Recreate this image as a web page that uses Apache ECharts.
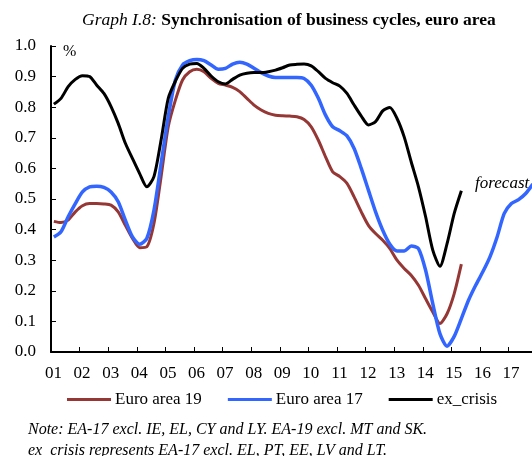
<!DOCTYPE html>
<html>
<head>
<meta charset="utf-8">
<script src="https://cdn.jsdelivr.net/npm/echarts@6/dist/echarts.min.js"></script>
<style>
  html, body { margin: 0; padding: 0; background: #fff; }
  #chart { width: 532px; height: 456px; }
</style>
</head>
<body>
<div id="chart"></div>
<script>
// quarterly observations, first quarter plotted at 2001.1 (axis value 1 = year 01)
var startT = 1.1;
var quarterStep = 0.25;
var forecastT = 15.35;

// Euro area 19
var ea19 = [0.427, 0.423, 0.431, 0.458, 0.478, 0.485, 0.485, 0.484, 0.480, 0.458,
    0.414, 0.371, 0.341, 0.344, 0.420, 0.573, 0.736, 0.823, 0.889, 0.916,
    0.924, 0.916, 0.894, 0.878, 0.872, 0.865, 0.851, 0.829, 0.807, 0.791,
    0.780, 0.774, 0.772, 0.771, 0.769, 0.760, 0.736, 0.692, 0.638, 0.589,
    0.573, 0.551, 0.507, 0.458, 0.414, 0.387, 0.365, 0.338, 0.300, 0.273,
    0.250, 0.218, 0.174, 0.131, 0.093, 0.125, 0.191, 0.287];

// Euro area 17 (runs on into the forecast)
var ea17 = [0.376, 0.393, 0.442, 0.485, 0.523, 0.540, 0.542, 0.538, 0.523, 0.491,
    0.431, 0.376, 0.352, 0.371, 0.463, 0.616, 0.769, 0.889, 0.938, 0.952,
    0.956, 0.952, 0.938, 0.924, 0.927, 0.941, 0.947, 0.941, 0.927, 0.913,
    0.902, 0.897, 0.897, 0.897, 0.897, 0.894, 0.872, 0.829, 0.774, 0.736,
    0.723, 0.706, 0.665, 0.600, 0.529, 0.458, 0.398, 0.352, 0.330, 0.330,
    0.346, 0.338, 0.267, 0.158, 0.060, 0.019, 0.051, 0.109, 0.169, 0.218,
    0.262, 0.311, 0.376, 0.453, 0.485, 0.498, 0.518, 0.549];

// ex_crisis
var exCrisis = [0.810, 0.829, 0.867, 0.891, 0.903, 0.900, 0.872, 0.845, 0.802, 0.747,
    0.682, 0.632, 0.583, 0.540, 0.573, 0.693, 0.829, 0.885, 0.927, 0.941,
    0.943, 0.927, 0.902, 0.883, 0.876, 0.891, 0.905, 0.911, 0.913, 0.913,
    0.916, 0.921, 0.929, 0.938, 0.940, 0.941, 0.935, 0.916, 0.894, 0.880,
    0.869, 0.845, 0.807, 0.771, 0.742, 0.753, 0.788, 0.799, 0.763, 0.703,
    0.620, 0.540, 0.442, 0.333, 0.280, 0.354, 0.453, 0.527];

var seriesNames = ['Euro area 19', 'Euro area 17', 'ex_crisis'];
var seriesColors = ['#953735', '#3366ff', '#000000'];

var font = 'Liberation Serif';

function toPoints(values) {
    return values.map(function (v, i) {
        return [startT + i * quarterStep, v];
    });
}

var chart = echarts.init(document.getElementById('chart'));

var option = {
    animation: false,
    backgroundColor: '#fff',
    textStyle: { fontFamily: font, color: '#000' },
    title: [{
        left: 77,
        top: 6,
        text: '{a|Graph I.8:} {b|Synchronisation of business cycles, euro area}',
        textStyle: {
            rich: {
                a: { fontFamily: font, fontSize: 17.5, fontStyle: 'italic', fontWeight: 'normal', color: '#000' },
                b: { fontFamily: font, fontSize: 17.5, fontWeight: 'bold', color: '#000' }
            }
        }
    }, {
        left: 23,
        top: 414,
        text: 'Note: EA-17 excl. IE, EL, CY and LY. EA-19 excl. MT and SK.\nex_crisis represents EA-17 excl. EL, PT, EE, LV and LT.',
        textStyle: {
            fontFamily: font, fontSize: 16, fontStyle: 'italic',
            fontWeight: 'normal', color: '#000', lineHeight: 21
        }
    }],
    legend: {
        top: 391,
        left: 67,
        padding: 0,
        icon: 'rect',
        itemWidth: 44,
        itemHeight: 3,
        itemGap: 26,
        data: seriesNames,
        textStyle: { fontFamily: font, fontSize: 17, color: '#000', padding: [0, 0, 0, -1] }
    },
    grid: { left: 51, right: 0, top: 46, bottom: 104 },
    xAxis: {
        type: 'value',
        min: 1,
        max: 17.82,
        interval: 1,
        axisLine: { lineStyle: { color: '#000', width: 2 } },
        axisTick: { inside: true, length: 5, lineStyle: { color: '#000', width: 1 } },
        axisLabel: {
            margin: 13,
            fontFamily: font,
            fontSize: 17,
            color: '#000',
            showMaxLabel: false,
            padding: [0, 0, 0, 5],
            formatter: function (v) {
                if (Math.abs(v - Math.round(v)) > 1e-6) return '';
                var n = Math.round(v);
                return (n < 10 ? '0' : '') + n;
            }
        },
        splitLine: { show: false }
    },
    yAxis: {
        type: 'value',
        min: 0,
        max: 1,
        interval: 0.1,
        axisLine: { show: true, lineStyle: { color: '#000', width: 2 } },
        axisTick: { show: true, inside: true, length: 5, lineStyle: { color: '#000', width: 1 } },
        axisLabel: {
            margin: 15,
            fontFamily: font,
            fontSize: 17,
            color: '#000',
            formatter: function (v) { return v.toFixed(1); }
        },
        splitLine: { show: false }
    },
    series: [{
        name: seriesNames[0],
        type: 'line',
        data: toPoints(ea19),
        symbol: 'none',
        smooth: 0.25,
        lineStyle: { color: seriesColors[0], width: 3 },
        itemStyle: { color: seriesColors[0] }
    }, {
        name: seriesNames[1],
        type: 'line',
        data: toPoints(ea17),
        symbol: 'none',
        smooth: 0.25,
        lineStyle: { color: seriesColors[1], width: 3.5 },
        itemStyle: { color: seriesColors[1] }
    }, {
        name: seriesNames[2],
        type: 'line',
        data: toPoints(exCrisis),
        symbol: 'none',
        smooth: 0.25,
        lineStyle: { color: seriesColors[2], width: 3 },
        itemStyle: { color: seriesColors[2] }
    }]
};

chart.setOption(option);

// forecast marker: dashed vertical line, "%" unit and "forecast" label placed via the axes
var top = chart.convertToPixel({ gridIndex: 0 }, [forecastT, 0.78]);
var bot = chart.convertToPixel({ gridIndex: 0 }, [forecastT, -0.05]);
var fc = chart.convertToPixel({ gridIndex: 0 }, [15.83, 0.552]);
var pct = chart.convertToPixel({ gridIndex: 0 }, [1.42, 0.98]);

chart.setOption({
    graphic: [{
        type: 'line',
        shape: { x1: top[0], y1: top[1], x2: bot[0], y2: bot[1] },
        style: { stroke: '#000', lineWidth: 1.5, lineDash: [5, 3] },
        z: 10
    }, {
        type: 'text',
        x: fc[0],
        y: fc[1],
        style: {
            text: 'forecast',
            font: 'italic 17px "Liberation Serif"',
            fill: '#000',
            textVerticalAlign: 'middle'
        }
    }, {
        type: 'text',
        x: pct[0],
        y: pct[1],
        style: {
            text: '%',
            font: '16px "Liberation Serif"',
            fill: '#000',
            textVerticalAlign: 'middle'
        }
    }]
});
</script>
</body>
</html>
